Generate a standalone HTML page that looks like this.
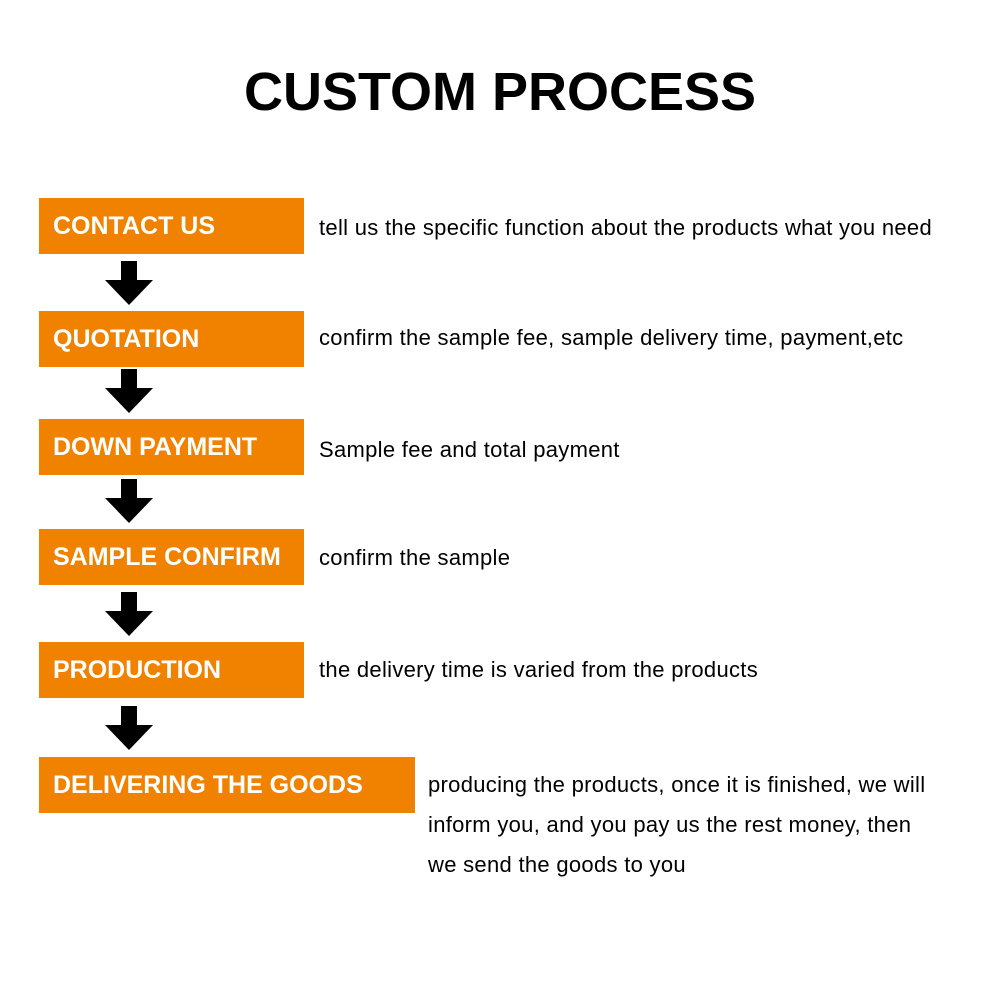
<!DOCTYPE html>
<html><head><style>
body{margin:0;width:1000px;height:1000px;background:#fff;position:relative;font-family:"Liberation Sans",sans-serif;overflow:hidden}
.t{position:absolute;left:0;width:1000px;text-align:center;top:61px;font-size:54px;font-weight:bold;color:#000}
.b{position:absolute;left:39px;width:265px;height:56px;background:#f08200;color:#fff;font-weight:bold;font-size:25px;line-height:56px;padding-left:14px;box-sizing:border-box}
.d{position:absolute;left:319px;font-size:22px;letter-spacing:0.3px;color:#000;white-space:nowrap}
.a{position:absolute;left:105px;width:48px;height:44px}
</style></head><body>
<div class="t">CUSTOM PROCESS</div>
<div class="b" style="top:198px">CONTACT US</div><div class="d" style="top:215px">tell us the specific function about the products what you need</div>
<div class="b" style="top:311px">QUOTATION</div><div class="d" style="top:325px">confirm the sample fee, sample delivery time, payment,etc</div>
<div class="b" style="top:419px">DOWN PAYMENT</div><div class="d" style="top:437px">Sample fee and total payment</div>
<div class="b" style="top:529px">SAMPLE CONFIRM</div><div class="d" style="top:545px">confirm the sample</div>
<div class="b" style="top:642px">PRODUCTION</div><div class="d" style="top:657px">the delivery time is varied from the products</div>
<div class="b" style="top:757px;width:376px">DELIVERING THE GOODS</div>
<div class="d" style="top:765px;left:428px;line-height:40px">producing the products, once it is finished, we will<br>inform you, and you pay us the rest money, then<br>we send the goods to you</div>
<svg class="a" style="top:261px" viewBox="0 0 48 44"><path d="M16 0H32V19H48L24 44L0 19H16Z"/></svg>
<svg class="a" style="top:369px" viewBox="0 0 48 44"><path d="M16 0H32V19H48L24 44L0 19H16Z"/></svg>
<svg class="a" style="top:479px" viewBox="0 0 48 44"><path d="M16 0H32V19H48L24 44L0 19H16Z"/></svg>
<svg class="a" style="top:592px" viewBox="0 0 48 44"><path d="M16 0H32V19H48L24 44L0 19H16Z"/></svg>
<svg class="a" style="top:706px" viewBox="0 0 48 44"><path d="M16 0H32V19H48L24 44L0 19H16Z"/></svg>
</body></html>
